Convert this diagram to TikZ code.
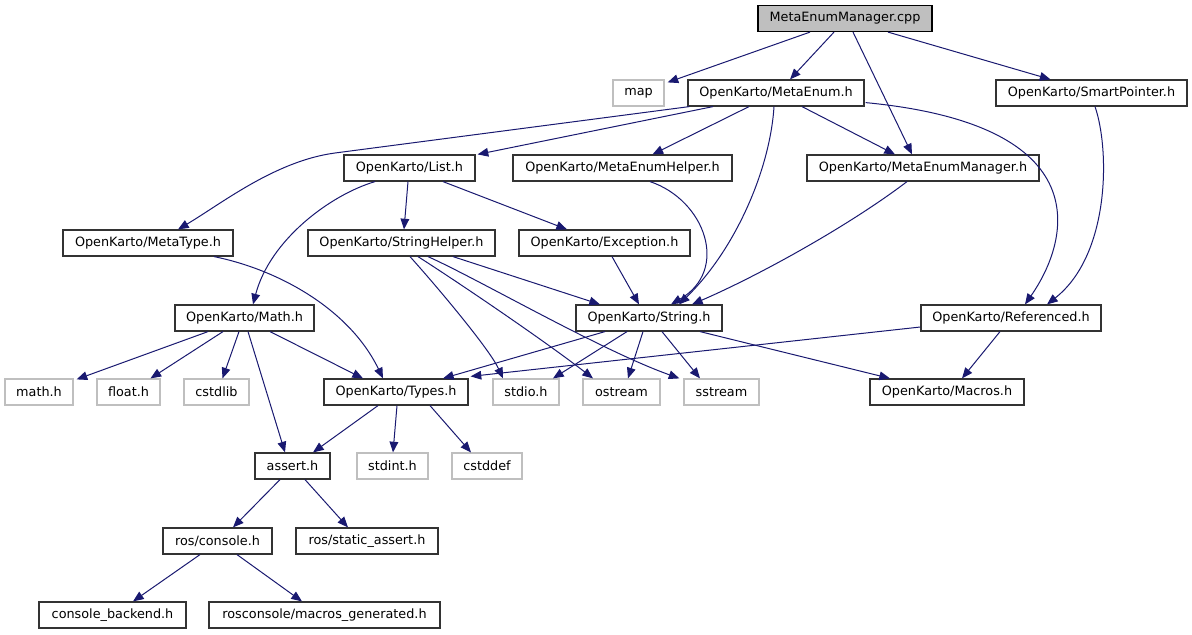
\documentclass[tikz,border=0pt]{standalone}
\usepackage{fontspec}
\setmainfont{DejaVu Sans}
\usetikzlibrary{arrows.meta,calc}
\definecolor{edgec}{HTML}{191970}
\definecolor{sysc}{HTML}{BFBFBF}
\definecolor{boxc}{HTML}{333333}
\begin{document}
\begin{tikzpicture}[x=0.75pt,y=-0.75pt,
  bw/.style={minimum width=#1*0.75pt},
  box/.style={draw=boxc, line width=0.9pt, rectangle, inner sep=0pt, minimum height=19.5pt,
    font=\fontsize{9.6pt}{11pt}\selectfont, text=black},
  sysbox/.style={box, draw=sysc},
  root/.style={box, fill=sysc, draw=black},
  edge/.style={draw=edgec, line width=0.75pt, -{Triangle[length=8pt,width=6.5pt]}}]
\useasboundingbox (0,0) rectangle (1192,635);
% nodes
\node[root, bw=174] (cpp) at (845,18.5) {MetaEnumManager.cpp};
\node[sysbox, bw=51] (map) at (638.5,93) {map};
\node[box, bw=176] (menum) at (776,93) {OpenKarto/MetaEnum.h};
\node[box, bw=191] (sp) at (1091.5,93) {OpenKarto/SmartPointer.h};
\node[box, bw=131] (list) at (409.5,168) {OpenKarto/List.h};
\node[box, bw=219] (meh) at (622.5,168) {OpenKarto/MetaEnumHelper.h};
\node[box, bw=232] (mem) at (923,168) {OpenKarto/MetaEnumManager.h};
\node[box, bw=170] (mtype) at (148,243) {OpenKarto/MetaType.h};
\node[box, bw=187] (sh) at (401.5,243) {OpenKarto/StringHelper.h};
\node[box, bw=171] (exc) at (604.5,243) {OpenKarto/Exception.h};
\node[box, bw=139] (math) at (244.5,318) {OpenKarto/Math.h};
\node[box, bw=146] (str) at (649,318) {OpenKarto/String.h};
\node[box, bw=180] (ref) at (1011,318) {OpenKarto/Referenced.h};
\node[sysbox, bw=68] (mathh) at (39,392) {math.h};
\node[sysbox, bw=63] (floath) at (128.5,392) {float.h};
\node[sysbox, bw=65] (cstdlib) at (216.5,392) {cstdlib};
\node[box, bw=144] (types) at (396,392) {OpenKarto/Types.h};
\node[sysbox, bw=66] (stdio) at (526,392) {stdio.h};
\node[sysbox, bw=77] (ostream) at (621.5,392) {ostream};
\node[sysbox, bw=75] (sstream) at (721.5,392) {sstream};
\node[box, bw=154] (macros) at (947,392) {OpenKarto/Macros.h};
\node[box, bw=75] (assert) at (292.5,466) {assert.h};
\node[sysbox, bw=71] (stdint) at (392.5,466) {stdint.h};
\node[sysbox, bw=70] (cstddef) at (487,466) {cstddef};
\node[box, bw=109] (roscon) at (217.5,541) {ros/console.h};
\node[box, bw=142] (rsa) at (367,541) {ros/static\_assert.h};
\node[box, bw=147] (cb) at (112.5,615) {console\_backend.h};
\node[box, bw=231] (mg) at (324.5,615) {rosconsole/macros\_generated.h};
% edges
\draw[edge] ($(cpp.south)+(-35,0)$) -- ($(map.north east)+(3,3)$);
\draw[edge] ($(cpp.south)+(-11,0)$) -- ($(menum.north)+(14,0)$);
\draw[edge] ($(cpp.south)+(8,0)$) -- ($(mem.north)+(-11,0)$);
\draw[edge] ($(cpp.south)+(43,0)$) -- ($(sp.north)+(-41,0)$);
\draw[edge] ($(menum.south)+(-63,0)$) -- ($(list.north east)+(2,0)$);
\draw[edge] ($(menum.south west)+(2,0)$) -- (335,153) .. controls (275,161) and (221,204) .. ($(mtype.north)+(30,0)$);
\draw[edge] ($(menum.south)+(-27,0)$) -- ($(meh.north)+(30,0)$);
\draw[edge] ($(menum.south)+(26,0)$) -- ($(mem.north)+(-28,0)$);
\draw[edge] ($(menum.south)+(-2,0)$) .. controls (770,170) and (735,250) .. ($(str.north)+(30,0)$);
\draw[edge] ($(menum.south east)+(1,-4)$) .. controls (1100,125) and (1070,240) .. ($(ref.north)+(14,0)$);
\draw[edge] ($(sp.south)+(3.5,0)$) .. controls (1110,150) and (1110,255) .. ($(ref.north)+(36,0)$);
\draw[edge] ($(list.south)+(-34.5,0)$) .. controls (330,195) and (270,240) .. ($(math.north)+(8.5,0)$);
\draw[edge] ($(list.south)+(-1.5,0)$) -- ($(sh.north)+(2.5,0)$);
\draw[edge] ($(list.south)+(33.5,0)$) -- ($(exc.north)+(-37.5,0)$);
\draw[edge] ($(meh.south)+(27.5,0)$) .. controls (705,200) and (730,270) .. ($(str.north)+(22,0)$);
\draw[edge] ($(mem.south)+(-16,0)$) .. controls (850,225) and (760,275) .. ($(str.north)+(43,0)$);
\draw[edge] ($(mtype.south)+(66,0)$) .. controls (280,270) and (350,310) .. ($(types.north)+(-13,0)$);
\draw[edge] ($(sh.south)+(51.5,0)$) -- ($(str.north)+(-49,0)$);
\draw[edge] ($(sh.south)+(8.5,0)$) .. controls (440,290) and (490,350) .. ($(stdio.north)+(-23,0)$);
\draw[edge] ($(sh.south)+(16.5,0)$) .. controls (470,290) and (550,345) .. ($(ostream.north)+(-28.5,0)$);
\draw[edge] ($(sh.south)+(26.5,0)$) .. controls (480,280) and (600,350) .. ($(sstream.north west)+(-4,0)$);
\draw[edge] ($(exc.south)+(7.5,0)$) -- ($(str.north)+(-10,0)$);
\draw[edge] ($(math.south)+(-36.5,0)$) -- ($(mathh.north east)+(3,1)$);
\draw[edge] ($(math.south)+(-21.5,0)$) -- ($(floath.north)+(22,0)$);
\draw[edge] ($(math.south)+(-5.5,0)$) -- ($(cstdlib.north)+(6,0)$);
\draw[edge] ($(math.south)+(3.5,0)$) -- ($(assert.north)+(-7.5,0)$);
\draw[edge] ($(math.south)+(25.5,0)$) -- ($(types.north)+(-33,0)$);
\draw[edge] ($(str.south)+(-44,0)$) -- ($(types.north)+(47,0)$);
\draw[edge] ($(str.south)+(-22,0)$) -- ($(stdio.north)+(27,0)$);
\draw[edge] ($(str.south)+(-6,0)$) -- ($(ostream.north)+(6.5,0)$);
\draw[edge] ($(str.south)+(13,0)$) -- ($(sstream.north)+(-21.5,0)$);
\draw[edge] ($(str.south)+(51,0)$) -- ($(macros.north)+(-57,0)$);
\draw[edge] ($(ref.west)+(0,9)$) -- ($(types.north east)+(2,-2)$);
\draw[edge] ($(ref.south)+(-11,0)$) -- ($(macros.north)+(15,0)$);
\draw[edge] ($(types.south)+(-18,0)$) -- ($(assert.north)+(20.5,0)$);
\draw[edge] ($(types.south)+(1,0)$) -- ($(stdint.north)+(0.5,0)$);
\draw[edge] ($(types.south)+(34,0)$) -- ($(cstddef.north)+(-16,0)$);
\draw[edge] ($(assert.south)+(-12.5,0)$) -- ($(roscon.north)+(15.5,0)$);
\draw[edge] ($(assert.south)+(12.5,0)$) -- ($(rsa.north)+(-19,0)$);
\draw[edge] ($(roscon.south)+(-17.5,0)$) -- ($(cb.north)+(20.5,0)$);
\draw[edge] ($(roscon.south)+(19.5,0)$) -- ($(mg.north)+(-22.5,0)$);
\end{tikzpicture}
\end{document}
